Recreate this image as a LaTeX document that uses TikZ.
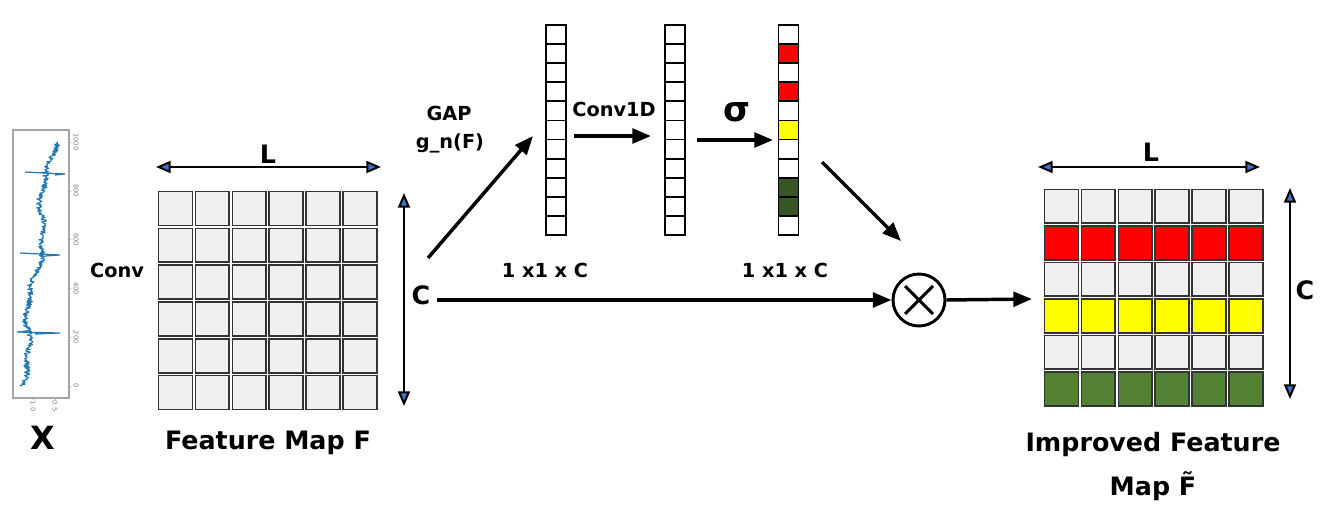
\documentclass[tikz,border=0pt]{standalone}
\usepackage{fontspec}
\setmainfont{DejaVu Sans}
\usetikzlibrary{arrows.meta,calc}
\definecolor{cellgrey}{HTML}{F0F0F0}
\definecolor{celledge}{HTML}{333333}
\definecolor{myred}{HTML}{FF0000}
\definecolor{myyellow}{HTML}{FFFF00}
\definecolor{mygreen}{HTML}{548235}
\definecolor{darkgreen}{HTML}{375623}
\definecolor{tipblue}{HTML}{4472C4}
\definecolor{sigblue}{HTML}{1F77B4}
\tikzset{
  gcell/.style={draw=celledge, line width=1.3pt, fill=cellgrey, minimum width=25.4pt, minimum height=25.4pt, inner sep=0pt},
  vcell/.style={draw=black, line width=1.3pt, fill=white, minimum width=15pt, minimum height=14.3pt, inner sep=0pt},
  flow/.style={line width=2.6pt, -{Triangle[length=14pt,width=11pt]}},
  dimarrow/.style={line width=1.5pt, {Triangle[fill=tipblue,length=11pt,width=9pt]}-{Triangle[fill=tipblue,length=11pt,width=9pt]}},
  lbl/.style={font=\bfseries\fontsize{19}{22}\selectfont, inner sep=0pt},
  small/.style={font=\bfseries\fontsize{14.5}{17}\selectfont, inner sep=0pt},
  tick/.style={rotate=-90, font=\fontsize{5}{6}\selectfont, text=gray, inner sep=0pt},
}
\begin{document}
\begin{tikzpicture}[x=0.75pt,y=-0.75pt]
\useasboundingbox (0,0) rectangle (1328,518);

% ---------- signal plot ----------
\draw[gray!70, line width=0.8pt] (13,130) rectangle (69,398);
\foreach \v/\t in {0/0,200/200,400/400,600/600,800/800,1000/1000}{
  \draw[gray!70, line width=0.4pt] (69,{386-0.244*\t}) -- (71,{386-0.244*\t});
  \node[tick] (tk\v) at (76,{386-0.244*\t}) {\v};
}
\node[tick] (tx1) at (33,406) {1.0};
\node[tick] (tx2) at (55,406) {0.5};
\draw[gray!70, line width=0.4pt] (33,398) -- (33,400) (55,398) -- (55,400);
\pgfmathsetseed{7}
\draw[sigblue, line width=0.8pt, line join=round]
  plot[domain=0:1000, samples=420, variable=\t]
  ({21+0.031*\t + 4*sin(\t*0.8) + 2*sin(\t*2.3) + 2.8*rand}, {386-0.244*\t});
% spikes
\draw[sigblue, line width=0.9pt] (27,331) -- (17,332) -- (60,333) -- (35,334);
\draw[sigblue, line width=0.9pt] (40,254) -- (20,253) -- (60,255) -- (45,256);
\draw[sigblue, line width=0.9pt] (46,173) -- (25,172) -- (65,174) -- (55,175);

\node[font=\bfseries\fontsize{24}{26}\selectfont, inner sep=0pt] (X) at (43,438) {X};
\node[small] (conv) at (117,270) {Conv};

% ---------- feature map F ----------
\foreach \r in {0,...,5}{
  \foreach \c in {0,...,5}{
    \node[gcell] (f-\r-\c) at ({175.5+36.9*\c},{208.5+36.8*\r}) {};
  }
}
\coordinate (fL1) at (156,167);
\coordinate (fL2) at (381,167);
\draw[dimarrow] (fL1) -- (fL2);
\node[lbl] (fLlab) at (268,154) {L};
\coordinate (fC1) at (404,193);
\coordinate (fC2) at (404,406);
\draw[dimarrow] (fC1) -- (fC2);
\node[lbl] (fClab) at (421,295) {C};
\node[lbl] (fname) at (268,443) {Feature Map F};

% ---------- vectors ----------
\foreach \i in {0,...,10}{
  \node[vcell] (a-\i) at (556,{34.5+19.1*\i}) {};
  \node[vcell] (b-\i) at (675,{34.5+19.1*\i}) {};
}
\foreach \i/\col in {0/white,1/myred,2/white,3/myred,4/white,5/myyellow,6/white,7/white,8/darkgreen,9/darkgreen,10/white}{
  \node[vcell, fill=\col] (s-\i) at (788.5,{34.5+19.1*\i}) {};
}
\node[small] (dimA) at (545,270) {1 x1 x C};
\node[small] (dimB) at (785,270) {1 x1 x C};

% GAP arrow
\coordinate (gapS) at (428,258);
\coordinate (gapE) at (533,136);
\draw[flow] (gapS) -- (gapE);
\node[small] (gap) at (449,113) {GAP};
\node[small] (gn) at (450,143) {g\_n(F)};

% Conv1D arrow
\coordinate (c1S) at (574,136);
\coordinate (c1E) at (651,136);
\draw[flow] (c1S) -- (c1E);
\node[small] (conv1d) at (614,109) {Conv1D};

% sigma arrow
\coordinate (sgS) at (697,140);
\coordinate (sgE) at (773,140);
\draw[flow] (sgS) -- (sgE);
\node[font=\bfseries\fontsize{26}{28}\selectfont, inner sep=0pt] (sigma) at (737,112) {σ};

% multiplication
\node[draw, circle, line width=2.2pt, minimum size=39pt, inner sep=0pt] (mul) at (919,300) {};
\draw[line width=2.2pt] ($(mul.center)+(-14,-14)$) -- ($(mul.center)+(14,14)$);
\draw[line width=2.2pt] ($(mul.center)+(-14,14)$) -- ($(mul.center)+(14,-14)$);

\coordinate (hS) at (437,300);
\draw[flow] (hS) -- (mul.west);
\coordinate (dS) at (822,162);
\coordinate (dE) at (901,241);
\draw[flow] (dS) -- (dE);
\coordinate (oE) at (1032,299);
\draw[flow] (mul.east) -- (oE);

% ---------- improved feature map ----------
\foreach \r/\col in {0/cellgrey,1/myred,2/cellgrey,3/myyellow,4/cellgrey,5/mygreen}{
  \foreach \c in {0,...,5}{
    \node[gcell, fill=\col] (g-\r-\c) at ({1061.5+36.9*\c},{206.3+36.5*\r}) {};
  }
}
\coordinate (gL1) at (1038,167);
\coordinate (gL2) at (1260,167);
\draw[dimarrow] (gL1) -- (gL2);
\node[lbl] (gLlab) at (1151,152) {L};
\coordinate (gC1) at (1290,188);
\coordinate (gC2) at (1290,399);
\draw[dimarrow] (gC1) -- (gC2);
\node[lbl] (gClab) at (1305,290) {C};
\node[lbl] (gname1) at (1153,445) {Improved Feature};
\node[lbl] (gname2) at (1153,486) {Map \~{F}};
\end{tikzpicture}
\end{document}
